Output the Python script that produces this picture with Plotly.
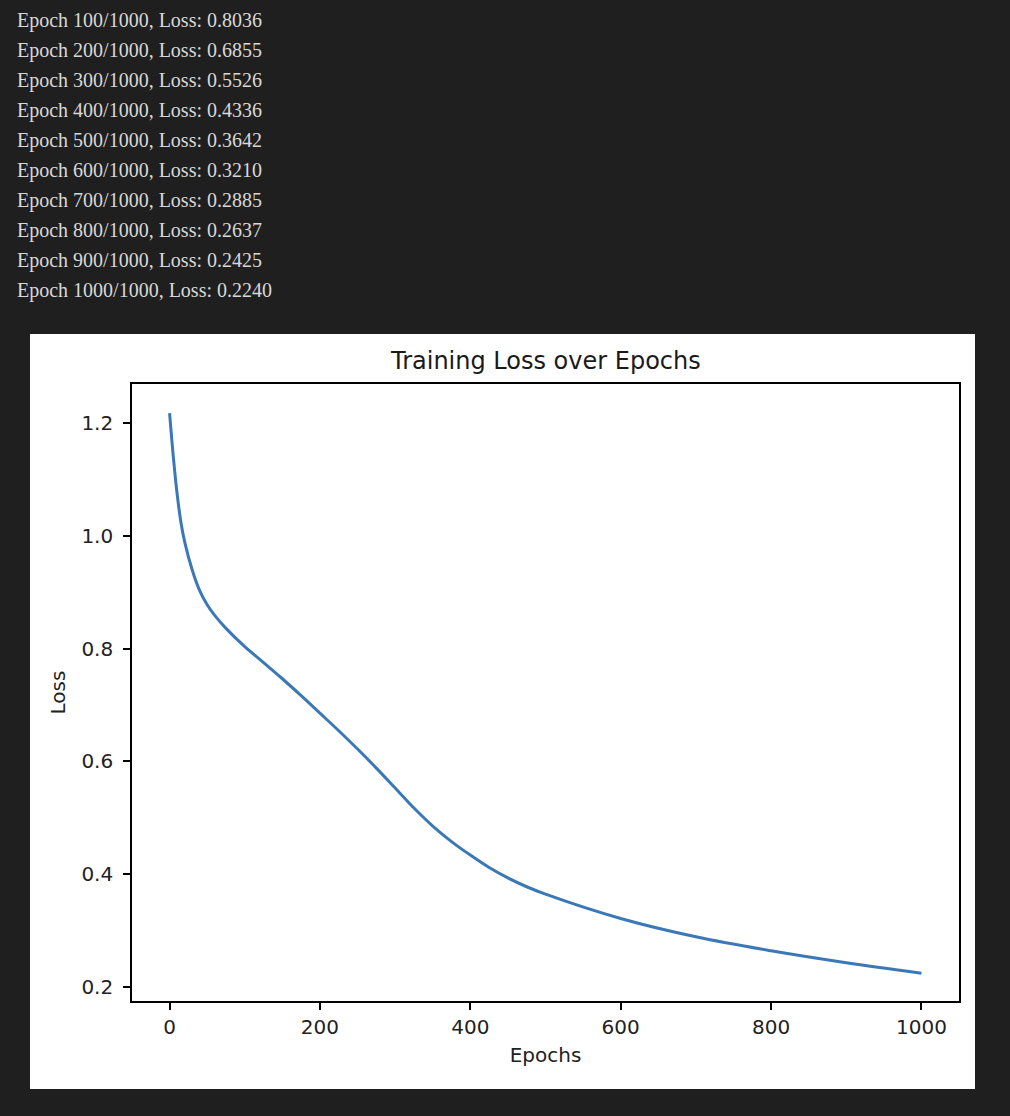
import plotly.graph_objects as go

# training log printed above the chart
log_epochs = [100, 200, 300, 400, 500, 600, 700, 800, 900, 1000]
log_losses = [0.8036, 0.6855, 0.5526, 0.4336, 0.3642, 0.3210, 0.2885, 0.2637, 0.2425, 0.2240]

# loss curve (log values used where printed)
epochs = [0, 5, 10, 15, 20, 30, 40, 50, 60, 75, 100, 125, 150, 175, 200,
          225, 250, 275, 300, 325, 350, 375, 400, 425, 450, 475, 500,
          600, 700, 800, 900, 1000]
losses = [1.218, 1.140, 1.075, 1.025, 0.990, 0.940, 0.903, 0.878, 0.859, 0.836, 0.8036,
          0.7754, 0.7466, 0.7166, 0.6855,
          0.6543, 0.6218, 0.5880, 0.5526, 0.5171, 0.4851, 0.4576, 0.4336,
          0.4116, 0.3931, 0.3774, 0.3642,
          0.3210, 0.2885, 0.2637, 0.2425, 0.2240]

x_ticks = [0, 200, 400, 600, 800, 1000]
y_ticks = [0.2, 0.4, 0.6, 0.8, 1.0, 1.2]

W, H = 1010, 1116
# plot area in page pixels
L, R, T, B = 132, 959, 384, 1001


def px(x):
    return (x - L) / (R - L)


def py(y):
    return (B - y) / (B - T)


fig = go.Figure()

fig.add_trace(go.Scatter(
    x=epochs,
    y=losses,
    mode='lines',
    line=dict(color='#3b78b6', width=3, shape='spline', smoothing=1.0),
    hoverinfo='x+y',
    showlegend=False
))

# white card behind the matplotlib-style chart
fig.add_shape(type='rect', xref='paper', yref='paper',
              x0=px(30), x1=px(975), y0=py(1089), y1=py(334),
              fillcolor='white', line=dict(width=0), layer='below')

# printed log lines
for i, (ep, ls) in enumerate(zip(log_epochs, log_losses)):
    fig.add_annotation(
        text=f'Epoch {ep}/1000, Loss: {ls:.4f}',
        xref='paper', yref='paper',
        x=px(15), y=py(20.5 + i * 30.05),
        xanchor='left', yanchor='middle',
        showarrow=False,
        font=dict(family='Liberation Serif', size=20, color='#d8d8d8')
    )

fig.add_annotation(
    text='Training Loss over Epochs',
    xref='paper', yref='paper', x=0.5, y=py(361),
    xanchor='center', yanchor='middle', showarrow=False,
    font=dict(family='DejaVu Sans', size=24, color='#1a1a1a')
)

axis_common = dict(
    showgrid=False, zeroline=False,
    showline=True, mirror=True, linecolor='black', linewidth=1.6,
    ticks='outside', ticklen=7, tickwidth=1.6, tickcolor='black',
    tickfont=dict(family='DejaVu Sans', size=20, color='#222222'),
)

fig.update_layout(
    width=W, height=H,
    margin=dict(l=L, r=W - R, t=T, b=H - B),
    paper_bgcolor='#1f1f1f',
    plot_bgcolor='white',
    xaxis=dict(range=[-50, 1050], tickvals=x_ticks, ticktext=[str(v) for v in x_ticks],
               title=dict(text='Epochs', standoff=10,
                          font=dict(family='DejaVu Sans', size=20, color='#222222')),
               **axis_common),
    yaxis=dict(range=[0.1746, 1.2698], tickvals=y_ticks, ticktext=[f'{v:.1f}' for v in y_ticks],
               ticklabelstandoff=6,
               title=dict(text='Loss', standoff=10,
                          font=dict(family='DejaVu Sans', size=20, color='#222222')),
               **axis_common),
)

fig.write_html("out.html", config={'displayModeBar': False},
               post_script="document.body.style.margin='0';document.body.style.overflow='hidden';document.body.style.background='#1f1f1f';")
